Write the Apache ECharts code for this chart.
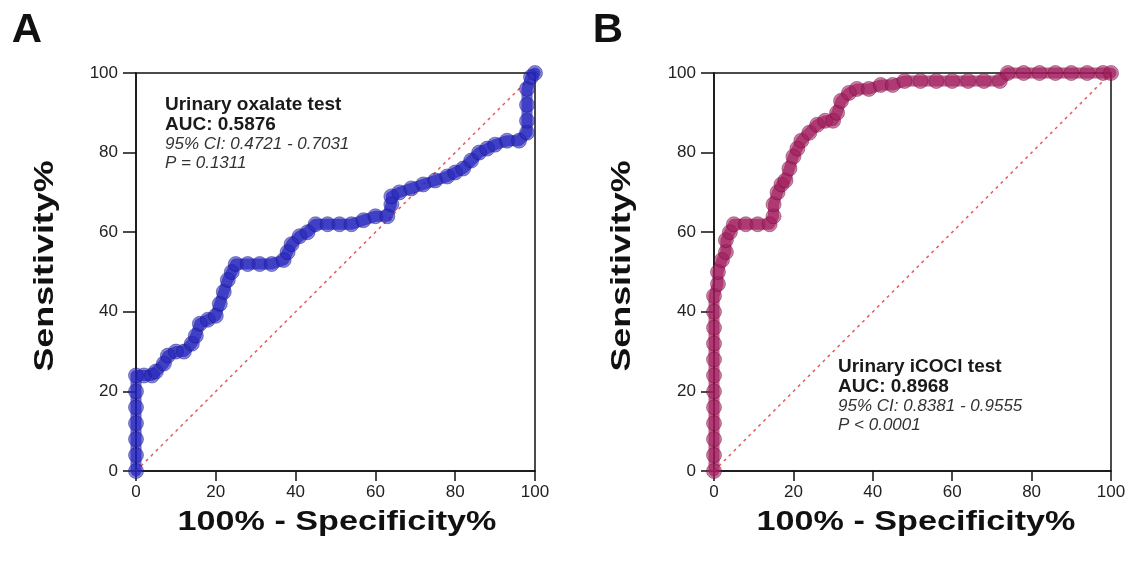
<!DOCTYPE html>
<html>
<head>
<meta charset="utf-8">
<script src="https://cdn.jsdelivr.net/npm/echarts@6/dist/echarts.min.js"></script>
<style>
  html, body { margin: 0; padding: 0; background: #fff; }
  #main { width: 1134px; height: 563px; }
</style>
</head>
<body>
<div id="main"></div>
<script>
// ROC points: x = 100% - specificity%, y = sensitivity%
var specA = [0, 0, 0, 0, 0, 0, 0, 2, 4, 5, 7, 8, 10, 12, 14, 15, 16, 18, 20, 21, 22, 23, 24, 25, 28, 31, 34, 37, 38, 39, 41, 43, 45, 48, 51, 54, 57, 60, 63, 64, 64, 66, 69, 72, 75, 78, 80, 82, 84, 86, 88, 90, 93, 96, 98, 98, 98, 98, 99, 100];
var sensA = [0, 4, 8, 12, 16, 20, 24, 24, 24, 25, 27, 29, 30, 30, 32, 34, 37, 38, 39, 42, 45, 48, 50, 52, 52, 52, 52, 53, 55, 57, 59, 60, 62, 62, 62, 62, 63, 64, 64, 67, 69, 70, 71, 72, 73, 74, 75, 76, 78, 80, 81, 82, 83, 83, 85, 88, 92, 96, 99, 100];

var specB = [0, 0, 0, 0, 0, 0, 0, 0, 0, 0, 0, 0, 1, 1, 2, 3, 3, 4, 5, 8, 11, 14, 15, 15, 16, 17, 18, 19, 20, 21, 22, 24, 26, 28, 30, 31, 32, 34, 36, 39, 42, 45, 48, 52, 56, 60, 64, 68, 72, 74, 78, 82, 86, 90, 94, 98, 100];
var sensB = [0, 4, 8, 12, 16, 20, 24, 28, 32, 36, 40, 44, 47, 50, 53, 55, 58, 60, 62, 62, 62, 62, 64, 67, 70, 72, 73, 76, 79, 81, 83, 85, 87, 88, 88, 90, 93, 95, 96, 96, 97, 97, 98, 98, 98, 98, 98, 98, 98, 100, 100, 100, 100, 100, 100, 100, 100];

var diagX = [0, 100];
var diagY = [0, 100];

var tickLabels = ['0', '20', '40', '60', '80', '100'];

var textA = ['Urinary oxalate test', 'AUC: 0.5876', '95% CI: 0.4721 - 0.7031', 'P = 0.1311'];
var textB = ['Urinary iCOCl test', 'AUC: 0.8968', '95% CI: 0.8381 - 0.9555', 'P < 0.0001'];

function zip(xs, ys) {
    var out = [];
    for (var i = 0; i < xs.length; i++) {
        out.push([xs[i], ys[i]]);
    }
    return out;
}

var font = '"Liberation Sans", Arial, sans-serif';
var chart = echarts.init(document.getElementById('main'));

function makeAxis(idx, isX) {
    return {
        type: 'value',
        gridIndex: idx,
        min: 0,
        max: 100,
        interval: 20,
        axisLine: { show: true, onZero: false, lineStyle: { color: '#111', width: 1.5 } },
        axisTick: { show: true, length: isX ? 10 : 13, lineStyle: { color: '#111', width: 1.5 } },
        splitLine: { show: false },
        axisLabel: {
            color: '#222',
            fontSize: 17,
            fontFamily: font,
            margin: isX ? 13 : 18,
            formatter: function (v) { return tickLabels[Math.round(v / 20)]; }
        }
    };
}

function rocSeries(idx, data, fill, edge) {
    return {
        type: 'line',
        xAxisIndex: idx,
        yAxisIndex: idx,
        data: data,
        clip: false,
        symbol: 'circle',
        symbolSize: 15,
        showSymbol: true,
        lineStyle: { color: fill, width: 11, opacity: 0.7, join: 'round', cap: 'round' },
        itemStyle: { color: fill, opacity: 0.55, borderColor: edge, borderWidth: 1 },
        z: 3,
        animation: false
    };
}

function diagSeries(idx) {
    return {
        type: 'line',
        xAxisIndex: idx,
        yAxisIndex: idx,
        data: zip(diagX, diagY),
        symbol: 'none',
        lineStyle: { color: '#e55a5a', width: 1.5, type: [3, 4] },
        z: 2,
        animation: false
    };
}

function textBlock(left, top, lines) {
    var els = [];
    for (var i = 0; i < lines.length; i++) {
        els.push({
            type: 'text',
            x: left,
            y: top + i * 19.5,
            style: {
                text: lines[i],
                fill: i < 2 ? '#1a1a1a' : '#333',
                font: (i < 2 ? 'bold 19px ' : 'italic 17px ') + font,
                textAlign: 'left',
                textVerticalAlign: 'middle'
            }
        });
    }
    return els;
}

function label(x, y, txt, size, rot, sx) {
    return {
        type: 'text',
        x: x,
        y: y,
        rotation: rot || 0,
        scaleX: sx || 1,
        style: {
            text: txt,
            fill: '#111',
            font: 'bold ' + size + 'px ' + font,
            textAlign: 'center',
            textVerticalAlign: 'middle'
        }
    };
}

var graphics = []
    .concat(textBlock(165, 105, textA))
    .concat(textBlock(838, 367, textB))
    .concat([
        label(27, 31, 'A', 40, 0, 1.05),
        label(608, 31, 'B', 40, 0, 1.05),
        label(337, 522, '100% - Specificity%', 28, 0, 1.22),
        label(916, 522, '100% - Specificity%', 28, 0, 1.22),
        label(45, 266, 'Sensitivity%', 28, Math.PI / 2, 1.28),
        label(622, 266, 'Sensitivity%', 28, Math.PI / 2, 1.28)
    ]);

var option = {
    backgroundColor: '#fff',
    animation: false,
    grid: [
        { left: 136, top: 73, width: 399, height: 398, show: true, borderColor: '#111', borderWidth: 1.5, backgroundColor: 'transparent' },
        { left: 714, top: 73, width: 397, height: 398, show: true, borderColor: '#111', borderWidth: 1.5, backgroundColor: 'transparent' }
    ],
    xAxis: [makeAxis(0, true), makeAxis(1, true)],
    yAxis: [makeAxis(0, false), makeAxis(1, false)],
    series: [
        diagSeries(0),
        rocSeries(0, zip(specA, sensA), 'rgba(35,35,190,1)', 'rgba(20,20,120,0.8)'),
        diagSeries(1),
        rocSeries(1, zip(specB, sensB), 'rgba(160,28,92,1)', 'rgba(110,10,55,0.8)')
    ],
    graphic: graphics
};

chart.setOption(option);
</script>
</body>
</html>
